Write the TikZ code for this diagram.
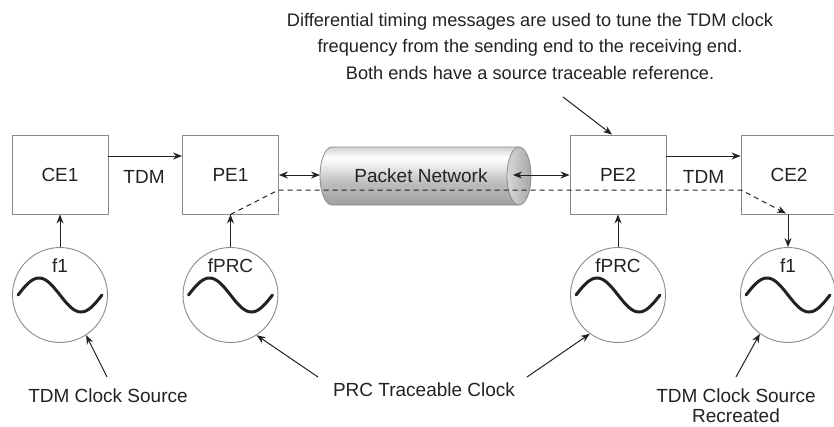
\documentclass[tikz,border=0pt]{standalone}
\usepackage{fontspec}
\setmainfont{Liberation Sans}
\usetikzlibrary{arrows.meta,calc}
\definecolor{ink}{HTML}{222222}
\definecolor{edge}{HTML}{8A8A8A}
\pgfdeclareverticalshading{cylshade}{100bp}{color(0bp)=(gray!75); color(25bp)=(gray!75); color(45bp)=(gray!50); color(60bp)=(gray!12); color(66bp)=(white); color(75bp)=(gray!35); color(100bp)=(gray!35)}
\begin{document}
\begin{tikzpicture}[x=1pt,y=-1pt,
  font=\fontsize{19}{20.5}\selectfont, text=ink,
  box/.style={draw=edge, line width=0.9pt, rectangle, minimum width=96pt, minimum height=79pt, inner sep=0pt},
  osc/.style={draw=edge, line width=0.9pt, circle, minimum size=95pt, inner sep=0pt},
  conn/.style={draw=ink, line width=1pt, -{Stealth[length=9pt,width=7pt]}},
  dconn/.style={draw=ink, line width=1pt, {Stealth[length=9pt,width=7pt]}-{Stealth[length=9pt,width=7pt]}},
  dashconn/.style={draw=ink, line width=1pt, dash pattern=on 5pt off 4pt, -{Stealth[length=9pt,width=7pt]}},
  wave/.style={draw=ink, line width=3pt, line cap=round},
  lbl/.style={inner sep=0pt, align=center}
]
\useasboundingbox (0,0) rectangle (834,426);

% cylinder
\shade[shading=cylshade, draw=edge, line width=0.8pt]
  (519,147) -- (332,147) arc[start angle=270, end angle=90, x radius=12, y radius=29] -- (519,205) -- cycle;
\shade[left color=gray!30, right color=gray!70, draw=edge, line width=0.8pt] (519,176) ellipse[x radius=12, y radius=29];
\node[lbl] (net) at (421,176) {Packet Network};
\coordinate (netL) at (320,175);
\coordinate (netR) at (513,175);

% boxes
\node[box] (CE1) at (60,174.5) {CE1};
\node[box] (PE1) at (230.5,174.5) {PE1};
\node[box] (PE2) at (618,174.5) {PE2};
\node[box] (CE2) at (789,174.5) {CE2};

% oscillators
\node[osc] (c1) at (60,295) {};
\node[osc] (c2) at (230.5,295) {};
\node[osc] (c3) at (618,295) {};
\node[osc] (c4) at (788,295) {};
\foreach \c/\t in {c1/f1, c2/fPRC, c3/fPRC, c4/f1}{
  \node[lbl] at ($(\c)+(0,-29)$) {\t};
  \begin{scope}[shift={(\c)}]
    \draw[wave] plot[domain=0:360, samples=60, smooth] ({-42+\x*0.23333},{-17*sin(\x)});
  \end{scope}
}

% TDM links
\draw[conn] (CE1.east |- 0,156) -- (PE1.west |- 0,156);
\node[lbl] (t1) at (144,177) {TDM};
\draw[conn] (PE2.east |- 0,156) -- (CE2.west |- 0,156);
\node[lbl] (t2) at (703.5,177) {TDM};

% packet network links
\draw[dconn] (PE1.east |- netL) -- (netL);
\draw[dconn] (netR) -- (PE2.west |- netR);

% clock inputs
\draw[conn] (c1.north) -- (CE1.south);
\draw[conn] (c2.north) -- (PE1.south);
\draw[conn] (c3.north) -- (PE2.south);

% differential timing path
\coordinate (d1) at (278.5,190);
\coordinate (d2) at (741,190);
\coordinate (dend) at ($(c4 |- CE2.south)+(-2,-1)$);
\draw[dashconn] (PE1.south) -- (d1) -- (d2) -- (dend);
\draw[conn] (c4 |- CE2.south) -- (c4.north);

% top note
\node[lbl, font=\fontsize{18.2}{26.5}\selectfont] (note) at (530,46)
  {Differential timing messages are used to tune the TDM clock\\
   frequency from the sending end to the receiving end.\\
   Both ends have a source traceable reference.};
\coordinate (nt) at (563,97);
\draw[conn] (nt) -- ($(PE2.north)+(-6,0)$);

% bottom labels
\node[lbl] (ls1) at (108,396) {TDM Clock Source};
\node[lbl] (ls2) at (424,390) {PRC Traceable Clock};
\node[lbl] (ls3) at (736,405.5) {TDM Clock Source\\Recreated};
\coordinate (a1) at (107,377);
\coordinate (a2) at (318,377);
\coordinate (a3) at (527,377);
\coordinate (a4) at (736,377);
\draw[conn] (a1) -- (c1.-57);
\draw[conn] (a2) -- (c2.-57);
\draw[conn] (a3) -- (c3.-126);
\draw[conn] (a4) -- (c4.-126);
\end{tikzpicture}
\end{document}
